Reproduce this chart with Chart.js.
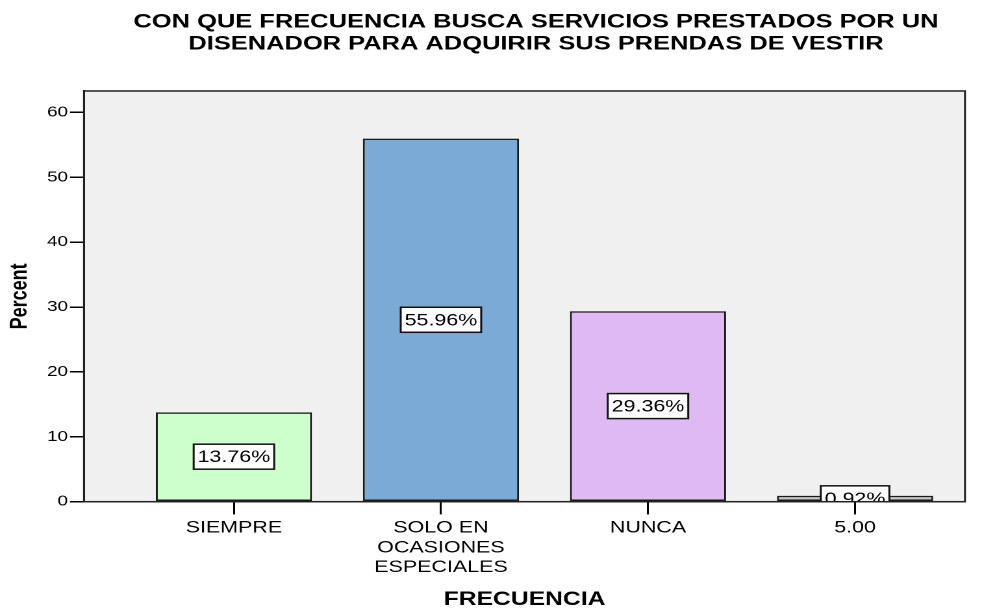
<!DOCTYPE html>
<html><head><meta charset="utf-8">
<script src="https://cdn.jsdelivr.net/npm/chart.js@4/dist/chart.umd.min.js"></script>
<style>
html,body{margin:0;padding:0;background:#fff;overflow:hidden;}
#wrap{width:766px;height:610px;transform:scaleX(1.29896);transform-origin:0 0;}
</style></head><body>
<div id="wrap"><canvas id="c" width="766" height="610"></canvas></div>
<script>
const titleLines = ['CON QUE FRECUENCIA BUSCA SERVICIOS PRESTADOS POR UN', 'DISENADOR PARA ADQUIRIR SUS PRENDAS DE VESTIR'];
const categories = [['SIEMPRE'], ['SOLO EN', 'OCASIONES', 'ESPECIALES'], ['NUNCA'], ['5.00']];
const percentValues = [13.76, 55.96, 29.36, 0.92];
const barColors = ['#CCFFCC', '#7BAAD6', '#DFB9F2', '#C4C4C4'];
const yTickValues = [0, 10, 20, 30, 40, 50, 60];
const xAxisTitle = 'FRECUENCIA';
const yAxisTitle = 'Percent';

const FONT = '"Liberation Sans", Arial, Helvetica, sans-serif';
const SX = 995 / 766;

const framePlugin = {
  id: 'framePlugin',
  afterLayout(chart) {
    const t = chart.titleBlock;
    if (!t) return;
    const want = 536 / SX;
    const d = want - (t.left + t.right) / 2;
    t.left += d; t.right += d;
  },
  beforeDraw(chart) {
    const {ctx, chartArea: a} = chart;
    ctx.save();
    ctx.fillStyle = '#F0F0F0';
    ctx.fillRect(a.left, a.top, a.right - a.left, a.bottom - a.top);
    ctx.restore();
  },
  afterDatasetsDraw(chart) {
    const {ctx, chartArea: a} = chart;
    const meta = chart.getDatasetMeta(0);
    ctx.save();
    ctx.beginPath();
    ctx.rect(a.left, a.top, a.right - a.left, a.bottom - a.top);
    ctx.clip();
    ctx.font = '16.5px ' + FONT;
    ctx.textAlign = 'center';
    ctx.textBaseline = 'middle';
    meta.data.forEach((bar, i) => {
      const txt = percentValues[i].toFixed(2) + '%';
      const cy = (bar.y + bar.base) / 2;
      const w = ctx.measureText(txt).width + 6;
      const h = 25;
      ctx.fillStyle = '#fff';
      ctx.fillRect(bar.x - w / 2, cy - h / 2, w, h);
      ctx.strokeStyle = '#111';
      ctx.lineWidth = 1.5;
      ctx.strokeRect(bar.x - w / 2, cy - h / 2, w, h);
      ctx.fillStyle = '#000';
      ctx.fillText(txt, bar.x, cy + 1);
    });
    ctx.restore();
    ctx.save();
    ctx.strokeStyle = '#222';
    ctx.lineWidth = 1.5;
    ctx.strokeRect(a.left, a.top, a.right - a.left, a.bottom - a.top);
    ctx.restore();
  }
};

new Chart(document.getElementById('c'), {
  type: 'bar',
  data: {
    datasets: [{
      data: percentValues.map((v, i) => ({x: i, y: v})),
      backgroundColor: barColors,
      borderColor: '#1a1a1a',
      borderWidth: 1.5,
      borderSkipped: false,
      categoryPercentage: 1,
      barPercentage: 0.754
    }]
  },
  options: {
    responsive: false,
    devicePixelRatio: 2,
    animation: false,
    layout: {padding: {left: 0, right: 23.1, top: 0, bottom: 0}},
    plugins: {
      legend: {display: false},
      tooltip: {enabled: false},
      title: {
        display: true,
        text: titleLines,
        color: '#000',
        font: {family: FONT, size: 19.6, weight: 'bold', lineHeight: 1.13},
        padding: {top: 11, bottom: 35.7}
      }
    },
    scales: {
      x: {
        type: 'linear',
        offset: false,
        min: -0.724,
        max: 3.531,
        afterBuildTicks(scale) { scale.ticks = categories.map((_, i) => ({value: i})); },
        afterFit(scale) { scale.height = 610 - 501.7; },
        ticks: {
          autoSkip: false, maxRotation: 0, minRotation: 0,
          padding: 3.7,
          color: '#000',
          font: {family: FONT, size: 16.5, lineHeight: 1.2},
          callback: (v) => categories[v]
        },
        grid: {offset: false, drawOnChartArea: false, drawTicks: true, tickLength: 12.7, tickColor: '#000', color: '#000', lineWidth: 1.5},
        border: {display: true, color: '#000', width: 1.3},
        title: {display: true, text: xAxisTitle, color: '#000', font: {family: FONT, size: 19, weight: 'bold', lineHeight: 1}, padding: {top: 0, bottom: 0.5}}
      },
      y: {
        min: 0,
        max: 63.3,
        afterBuildTicks(scale) { scale.ticks = yTickValues.map(v => ({value: v})); },
        afterFit(scale) { scale.width = 64.67; },
        ticks: {padding: 1.5, color: '#000', font: {family: FONT, size: 14.5}},
        grid: {drawOnChartArea: false, drawTicks: true, tickLength: 10.8, tickColor: '#000', color: '#000', lineWidth: 1.5},
        border: {display: true, color: '#000', width: 1.5},
        title: {display: true, text: yAxisTitle, color: '#000', font: {family: FONT, size: 18, weight: 'bold', lineHeight: 1.2}, padding: {top: 4.6, bottom: 0}}
      }
    }
  },
  plugins: [framePlugin]
});
</script>
</body></html>
